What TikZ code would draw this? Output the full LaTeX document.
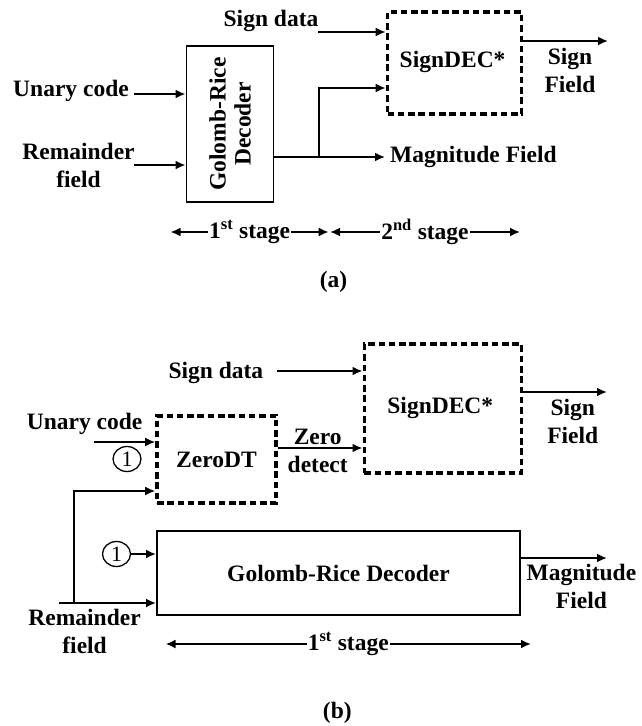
\documentclass[tikz,border=0pt]{standalone}
\usepackage{fontspec}
\setmainfont{Liberation Serif}
\usetikzlibrary{arrows.meta,shapes.geometric}
\tikzset{
  lbl/.style={font=\bfseries\fontsize{23.5}{28}\selectfont, inner sep=0pt, align=center},
  solidbox/.style={draw, line width=1.9pt, inner sep=0pt, align=center,
                   font=\bfseries\fontsize{23.5}{25}\selectfont},
  dashbox/.style={draw, line width=3.6pt, dash pattern=on 6.5pt off 3.8pt, inner sep=0pt,
                  font=\bfseries\fontsize{23.5}{25}\selectfont},
  sig/.style={line width=1.9pt, -{Latex[length=10pt,width=9pt]}},
  stg/.style={line width=1.9pt, {Latex[length=10pt,width=9pt]}-{Latex[length=10pt,width=9pt]}},
  stagetxt/.style={lbl, fill=white, inner xsep=1pt},
  onebadge/.style={ellipse, draw, line width=1.3pt, minimum width=28pt, minimum height=25pt,
                   inner sep=0pt, font=\fontsize{22}{22}\selectfont},
}
\begin{document}
\begin{tikzpicture}[x=1pt,y=-1pt]
\useasboundingbox (0,0) rectangle (641,726);

% ---------------- (a) two-stage decoder ----------------
\node[solidbox, minimum width=87pt, minimum height=156pt] (gra) at (230,124) {};
\node[lbl, rotate=90, font=\bfseries\fontsize{23.5}{25}\selectfont] at (gra.center) {Golomb-Rice\\Decoder};
\node[dashbox, minimum width=134pt, minimum height=102pt] (sda) at (454.5,63) {};
\node[lbl] at (452.6,62) {SignDEC*};

\node[lbl] (ua) at (71,91) {Unary code};
\node[lbl] (rfa) at (78.5,165) {Remainder\\field};
\node[lbl] (sdl) at (271,21) {Sign data};
\node[lbl, anchor=west] (mfa) at (390,157) {Magnitude Field};
\node[lbl] (sfa) at (570,70) {Sign\\Field};

\coordinate (uain) at (133.7,94);
\coordinate (rfain) at (133.7,165);
\coordinate (sdain) at (317.7,32);
\coordinate (bra) at (319,157);
\coordinate (sfaout) at (608,41);
\coordinate (mfain) at (385,157);

\draw[sig] (uain) -- (gra.west |- uain);
\draw[sig] (rfain) -- (gra.west |- rfain);
\draw[sig] (sdain) -- (sda.west |- sdain);
\draw[sig] (gra.east |- bra) -- (mfain);
\draw[sig] (bra) |- (sda.west |- 0,88);
\draw[sig] (sda.east |- sfaout) -- (sfaout);

\coordinate (s1l) at (170.5,232);
\coordinate (s1r) at (328.7,232);
\coordinate (s2l) at (330,232);
\coordinate (s2r) at (520,232);
\draw[stg] (s1l) -- node[stagetxt] {1\textsuperscript{st} stage} (s1r);
\draw[stg] (s2l) -- node[stagetxt] {2\textsuperscript{nd} stage} (s2r);

\node[lbl] (capa) at (333.6,282) {(a)};

% ---------------- (b) single-stage decoder ----------------
\node[dashbox, minimum width=157pt, minimum height=129pt] (sdb) at (442.8,408.5) {};
\node[lbl] at (440.3,408) {SignDEC*};
\node[dashbox, minimum width=119pt, minimum height=87pt] (zdt) at (216.5,459.5) {ZeroDT};
\node[solidbox, minimum width=363pt, minimum height=84pt] (grb) at (338.5,573) {Golomb-Rice Decoder};

\node[lbl] (sdlb) at (215.9,373) {Sign data};
\node[lbl] (sfb) at (572.8,421.5) {Sign\\Field};
\node[lbl] (ub) at (84.6,424) {Unary code};
\node[lbl] (zd) at (317.7,451) {Zero\\detect};
\node[lbl] (mfb) at (581.4,586) {Magnitude\\Field};
\node[lbl] (rfb) at (84.6,631) {Remainder\\field};

\node[onebadge] (one1) at (127,459) {1};
\node[onebadge] (one2) at (116.5,554) {1};

\coordinate (sdbin) at (277.2,371);
\coordinate (sfbout) at (607,392);
\coordinate (ubin) at (94.4,442);
\coordinate (rbin) at (58.9,603);
\coordinate (brb) at (73.6,603);
\coordinate (mfbout) at (607,558);

\draw[sig] (sdbin) -- (sdb.west |- sdbin);
\draw[sig] (sdb.east |- sfbout) -- (sfbout);
\draw[sig] (ubin) -- (zdt.west |- ubin);
\draw[sig] (zdt.east |- 0,448) -- (sdb.west |- 0,448);
\draw[sig] (rbin) -- (grb.west |- rbin);
\draw[sig] (brb) |- (zdt.west |- 0,491);
\draw[sig] (one2.east) -- (grb.west |- one2.east);
\draw[sig] (grb.east |- mfbout) -- (mfbout);

\coordinate (s3l) at (165.6,644);
\coordinate (s3r) at (531,644);
\draw[stg] (s3l) -- node[stagetxt] {1\textsuperscript{st} stage} (s3r);

\node[lbl] (capb) at (337.3,713) {(b)};
\end{tikzpicture}
\end{document}
